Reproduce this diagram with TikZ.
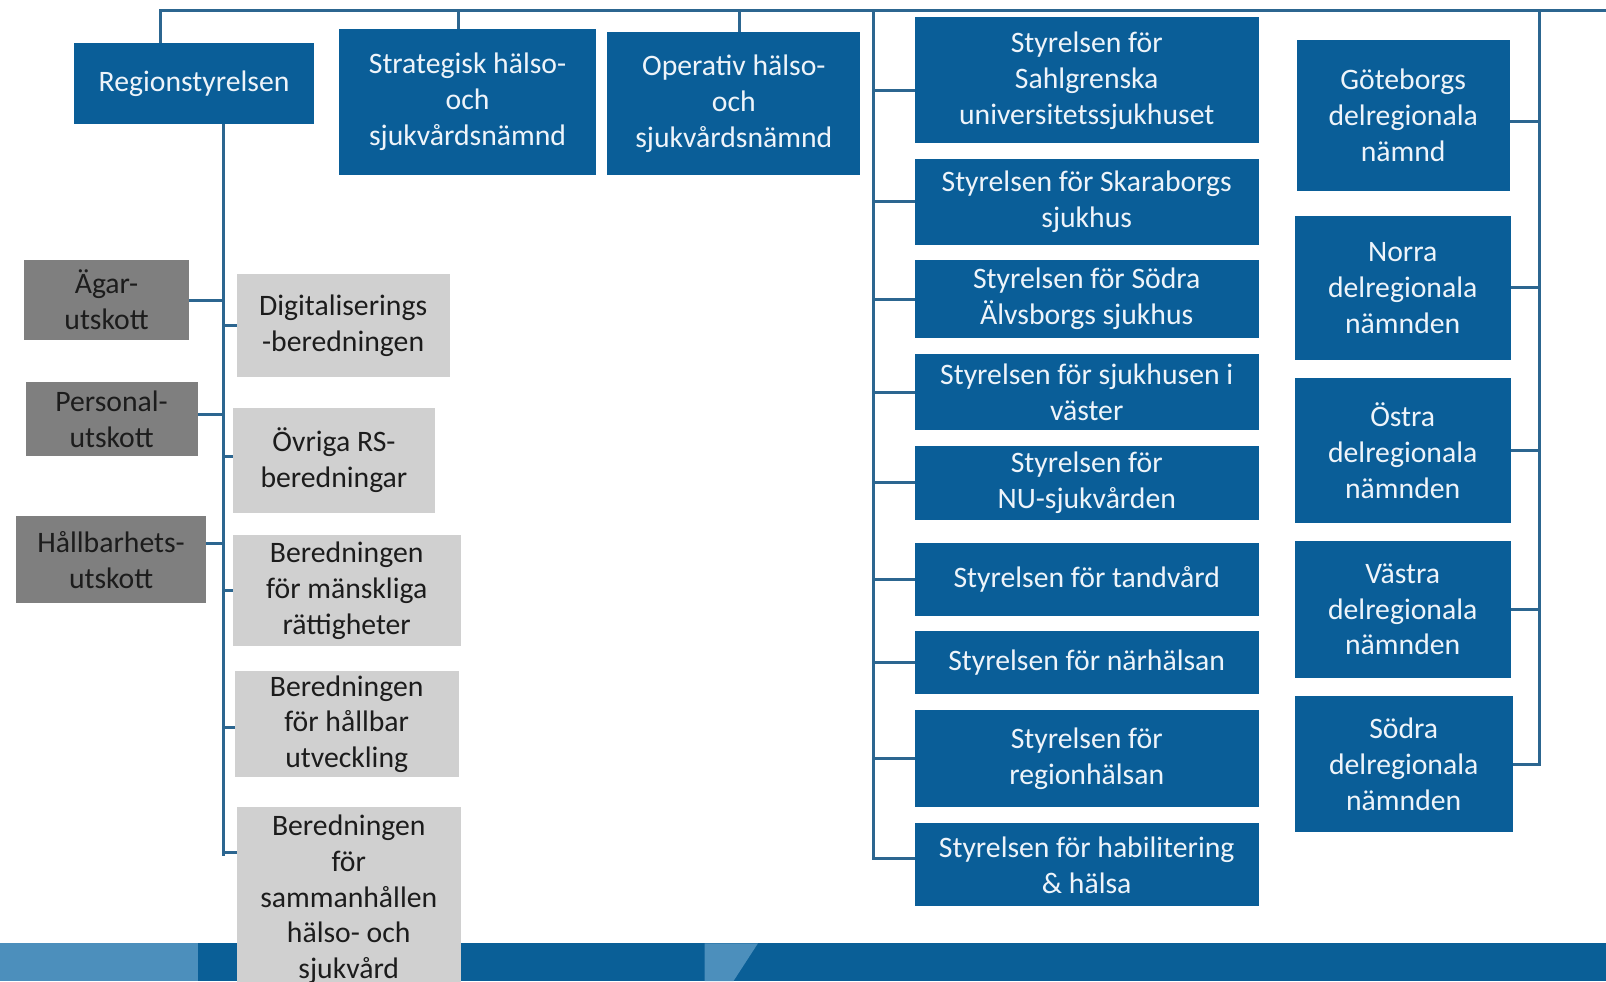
\documentclass[tikz,border=0pt]{standalone}
\usepackage{fontspec}
\setmainfont{Carlito}
\usetikzlibrary{backgrounds}
\definecolor{boxblue}{HTML}{0A5E98}
\definecolor{lineblue}{HTML}{2C6690}
\definecolor{greydark}{HTML}{7F7F7F}
\definecolor{greylight}{HTML}{D0D0D0}
\definecolor{textdark}{HTML}{1C1C1C}
\definecolor{textlight}{HTML}{EEF4FA}
\definecolor{banddark}{HTML}{0A5F97}
\definecolor{bandlight}{HTML}{4C8FBC}
\newcommand\mybox[7]{\node[#1, minimum width={(#4-#2)*0.5pt}, minimum height={(#5-#3)*0.5pt}] (#6) at ({(#2+#4)/2},{(#3+#5)/2}) {#7};}
\begin{document}
\begin{tikzpicture}[x=0.5pt,y=-0.5pt,
  basebox/.style={rectangle, draw=none, inner sep=1pt, outer sep=0pt, align=center,
    font=\fontsize{14.5}{17.5}\selectfont},
  bluebox/.style={basebox, fill=boxblue, text=textlight},
  darkbox/.style={basebox, fill=greydark, text=textdark},
  lightbox/.style={basebox, fill=greylight, text=textdark},
  conn/.style={draw=lineblue, line width=1.5pt}]
\clip (0,0) rectangle (1568,958);

% top row
\mybox{bluebox}{72}{42}{307}{121}{rs}{Regionstyrelsen}
\mybox{bluebox}{331}{28}{582}{171}{strat}{Strategisk hälso-\\och\\sjukvårdsnämnd}
\mybox{bluebox}{593}{31}{840}{171}{op}{Operativ hälso-\\och\\sjukvårdsnämnd}

% utskott
\mybox{darkbox}{23}{254}{185}{332}{agar}{Ägar-\\utskott}
\mybox{darkbox}{25}{373}{193}{445}{pers}{Personal-\\utskott}
\mybox{darkbox}{16}{504}{201}{589}{hallb}{Hållbarhets-\\utskott}

% beredningar
\mybox{lightbox}{231}{268}{439}{368}{dig}{Digitaliserings\\-beredningen}
\mybox{lightbox}{227}{398}{425}{501}{ovr}{Övriga RS-\\beredningar}
\mybox{lightbox}{227}{522}{450}{631}{mansk}{Beredningen\\för mänskliga\\rättigheter}
\mybox{lightbox}{229}{655}{448}{759}{hbar}{Beredningen\\för hållbar\\utveckling}
\mybox{lightbox}{231}{788}{450}{968}{samm}{Beredningen\\för\\sammanhållen\\hälso- och\\sjukvård}

% styrelser
\mybox{bluebox}{893}{17}{1229}{140}{sahl}{Styrelsen för\\Sahlgrenska\\universitetssjukhuset}
\mybox{bluebox}{893}{155}{1229}{239}{skar}{Styrelsen för Skaraborgs\\sjukhus}
\mybox{bluebox}{893}{254}{1229}{330}{salv}{Styrelsen för Södra\\Älvsborgs sjukhus}
\mybox{bluebox}{893}{346}{1229}{420}{vast}{Styrelsen för sjukhusen i\\väster}
\mybox{bluebox}{893}{435}{1229}{508}{nu}{Styrelsen för\\NU-sjukvården}
\mybox{bluebox}{893}{530}{1229}{601}{tand}{Styrelsen för tandvård}
\mybox{bluebox}{893}{616}{1229}{678}{narh}{Styrelsen för närhälsan}
\mybox{bluebox}{893}{693}{1229}{788}{regh}{Styrelsen för\\regionhälsan}
\mybox{bluebox}{893}{804}{1229}{885}{hab}{Styrelsen för habilitering\\\& hälsa}

% delregionala
\mybox{bluebox}{1266}{39}{1474}{186}{gbg}{Göteborgs\\delregionala\\nämnd}
\mybox{bluebox}{1264}{211}{1475}{351}{norra}{Norra\\delregionala\\nämnden}
\mybox{bluebox}{1264}{369}{1475}{511}{ostra}{Östra\\delregionala\\nämnden}
\mybox{bluebox}{1264}{528}{1475}{662}{vastra}{Västra\\delregionala\\nämnden}
\mybox{bluebox}{1264}{680}{1477}{812}{sodra}{Södra\\delregionala\\nämnden}

\coordinate (topL) at (157,10);
\coordinate (topR) at (1568,10);
\coordinate (dS) at (448,10);
\coordinate (dO) at (722,10);
\coordinate (busA) at (853,10);
\coordinate (busB) at (1503,10);
\coordinate (rsbus) at (218,836);

\begin{scope}[on background layer]
\fill[white] (0,0) rectangle (1568,958);
% bottom band
\fill[banddark] (0,921) rectangle (1568,958);
\fill[bandlight] (0,921) rectangle (193,958);
\fill[bandlight] (688,921) -- (740,921) -- (716,958) -- (688,958) -- cycle;
% top line
\draw[conn] (topL |- rs.north) -- (topL) -- (topR);
\draw[conn] (dS) -- (dS |- strat.north);
\draw[conn] (dO) -- (dO |- op.north);
% Regionstyrelsen bus
\draw[conn] (rsbus |- rs.south) -- (rsbus);
\draw[conn] (rsbus |- agar.east) -- (agar.east);
\draw[conn] ([yshift=2pt]rsbus |- pers.east) -- ([yshift=2pt]pers.east);
\draw[conn] ([yshift=8pt]rsbus |- hallb.east) -- ([yshift=8pt]hallb.east);
\draw[conn] (rsbus |- dig.west) -- (dig.west);
\draw[conn] ([yshift=2pt]rsbus |- ovr.west) -- ([yshift=2pt]ovr.west);
\draw[conn] (rsbus |- mansk.west) -- (mansk.west);
\draw[conn] ([yshift=-1.5pt]rsbus |- hbar.west) -- ([yshift=-1.5pt]hbar.west);
\draw[conn] ([yshift=-22pt]rsbus |- samm.north west) -- ([yshift=-22pt]samm.north west);
% styrelser bus
\draw[conn] (busA) -- ([yshift=3pt]busA |- hab.west) -- ([yshift=3pt]hab.west);
\draw[conn] ([yshift=-5pt]busA |- sahl.west) -- ([yshift=-5pt]sahl.west);
\draw[conn] (busA |- skar.west) -- (skar.west);
\draw[conn] (busA |- salv.west) -- (salv.west);
\draw[conn] (busA |- vast.west) -- (vast.west);
\draw[conn] (busA |- nu.west) -- (nu.west);
\draw[conn] (busA |- tand.west) -- (tand.west);
\draw[conn] (busA |- narh.west) -- (narh.west);
\draw[conn] (busA |- regh.west) -- (regh.west);
% delregionala bus
\draw[conn] (busB) -- (busB |- sodra.east) -- (sodra.east);
\draw[conn] ([yshift=-3pt]busB |- gbg.east) -- ([yshift=-3pt]gbg.east);
\draw[conn] (busB |- norra.east) -- (norra.east);
\draw[conn] (busB |- ostra.east) -- (ostra.east);
\draw[conn] (busB |- vastra.east) -- (vastra.east);
\end{scope}
\end{tikzpicture}
\end{document}
